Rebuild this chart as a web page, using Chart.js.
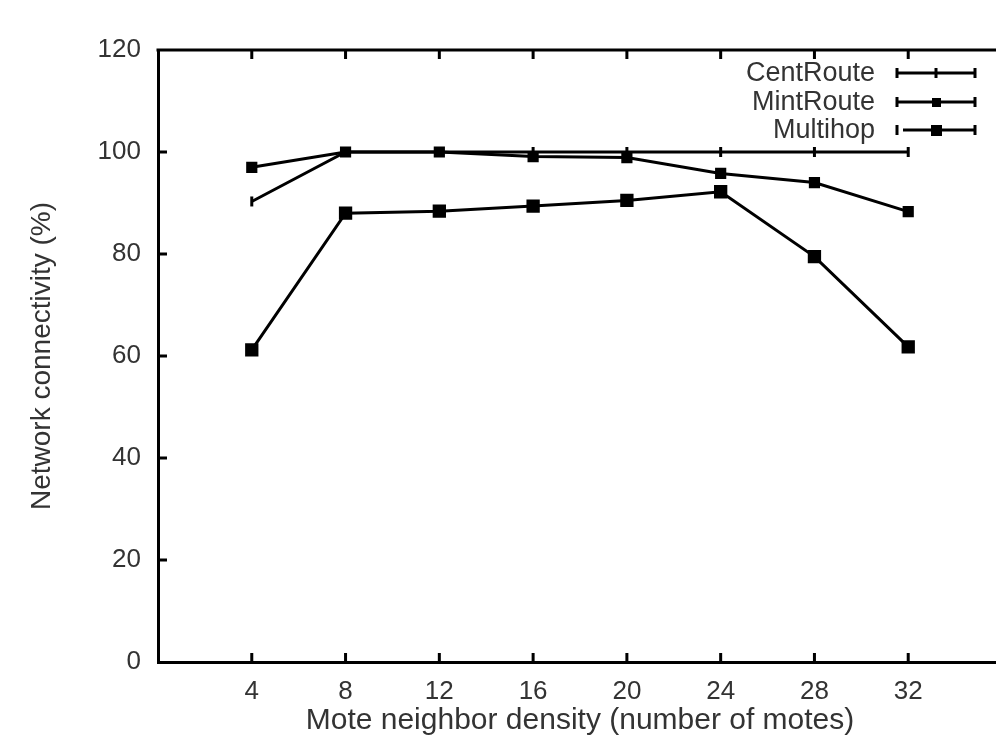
<!DOCTYPE html>
<html>
<head>
<meta charset="utf-8">
<script src="https://cdn.jsdelivr.net/npm/chart.js@4.4.1/dist/chart.umd.min.js"></script>
<style>
  html, body { margin: 0; padding: 0; background: #fff; overflow: hidden; }
  #wrap { width: 996px; height: 751px; overflow: hidden; position: relative; }
  canvas { display: block; }
</style>
</head>
<body>
<div id="wrap"><canvas id="c" width="1012" height="751"></canvas></div>
<script>
// ---- data ----
const densities = [4, 8, 12, 16, 20, 24, 28, 32];
const centRoute = [90.3, 100, 100, 100, 100, 100, 100, 100];
const mintRoute = [97, 100, 100, 99.1, 98.9, 95.8, 94, 88.3];
const multihop  = [61.2, 88, 88.4, 89.4, 90.5, 92.2, 79.5, 61.8];
const seriesNames = ['CentRoute', 'MintRoute', 'Multihop'];
const xTicks = [4, 8, 12, 16, 20, 24, 28, 32];
const yTicks = [0, 20, 40, 60, 80, 100, 120];
const xTitle = 'Mote neighbor density (number of motes)';
const yTitle = 'Network connectivity (%)';

const FONT = '"Liberation Sans", Arial, Helvetica, sans-serif';
const TXT = '#333';

function pts(vals) { return densities.map((d, i) => ({ x: d, y: vals[i] })); }

const gnuplotFrame = {
  id: 'gnuplotFrame',
  afterDatasetsDraw(chart) {
    const { ctx, chartArea: a, scales: { x, y } } = chart;
    ctx.save();
    ctx.strokeStyle = '#000';
    ctx.lineWidth = 3;
    ctx.lineCap = 'butt';
    // top border
    ctx.beginPath();
    ctx.moveTo(a.left - 1.5, a.top);
    ctx.lineTo(a.right + 10, a.top);
    ctx.stroke();
    // inward ticks
    const L = 9;
    ctx.beginPath();
    x.ticks.forEach(t => {
      const px = x.getPixelForValue(t.value);
      ctx.moveTo(px, a.bottom); ctx.lineTo(px, a.bottom - L);
      ctx.moveTo(px, a.top); ctx.lineTo(px, a.top + L);
    });
    y.ticks.forEach(t => {
      if (t.value === y.min || t.value === y.max) return;
      const py = y.getPixelForValue(t.value);
      ctx.moveTo(a.left, py); ctx.lineTo(a.left + L, py);
    });
    ctx.stroke();

    // legend, gnuplot style (text right-aligned, sample on the right)
    const rowY = [73, 102, 130];
    const textRight = 875, sx0 = 897, sx1 = 975, sm = 936;
    ctx.font = '27px ' + FONT;
    ctx.textAlign = 'right';
    ctx.textBaseline = 'middle';
    chart.data.datasets.forEach((ds, i) => {
      const yy = rowY[i];
      ctx.fillStyle = TXT;
      ctx.fillText(ds.label, textRight, yy + 1);
      ctx.strokeStyle = '#000';
      ctx.lineWidth = 3;
      ctx.beginPath();
      ctx.moveTo(i === 2 ? sx0 + 6 : sx0, yy); ctx.lineTo(sx1, yy);
      ctx.stroke();
      ctx.beginPath();
      ctx.moveTo(sx0, yy - 5); ctx.lineTo(sx0, yy + 5);
      ctx.moveTo(sx1, yy - 5); ctx.lineTo(sx1, yy + 5);
      ctx.stroke();
      ctx.fillStyle = '#000';
      if (i === 0) {
        ctx.beginPath(); ctx.moveTo(sm, yy - 5); ctx.lineTo(sm, yy + 5); ctx.stroke();
      } else if (i === 1) {
        ctx.fillRect(sm - 4, yy - 4, 9, 9);
      } else {
        ctx.fillRect(sm - 5, yy - 5, 11, 11);
      }
    });
    ctx.restore();
  }
};

new Chart(document.getElementById('c'), {
  type: 'line',
  data: {
    datasets: [
      { label: seriesNames[0], data: pts(centRoute), borderColor: '#000', backgroundColor: '#000',
        borderWidth: 3, fill: false, pointStyle: 'line', pointRotation: 90, pointRadius: 5, pointBorderWidth: 3 },
      { label: seriesNames[1], data: pts(mintRoute), borderColor: '#000', backgroundColor: '#000',
        borderWidth: 3, fill: false, pointStyle: 'rect', pointRadius: 6.5, pointBorderWidth: 2 },
      { label: seriesNames[2], data: pts(multihop), borderColor: '#000', backgroundColor: '#000',
        borderWidth: 3, fill: false, pointStyle: 'rect', pointRadius: 8, pointBorderWidth: 2 }
    ]
  },
  options: {
    responsive: false,
    animation: false,
    layout: { padding: { top: 50, right: 4, left: 0, bottom: 0 } },
    plugins: { legend: { display: false }, tooltip: { enabled: false } },
    scales: {
      x: {
        type: 'linear', min: 0, max: 36,
        afterBuildTicks: s => { s.ticks = xTicks.map(v => ({ value: v })); },
        afterFit: s => { s.height = 89; },
        grid: { display: false, drawTicks: false },
        border: { display: true, width: 3, color: '#000' },
        ticks: { color: TXT, font: { family: FONT, size: 26 }, padding: 14, maxRotation: 0, autoSkip: false },
        title: { display: true, text: xTitle, color: TXT, font: { family: FONT, size: 30 }, padding: { top: 0, bottom: 12 } }
      },
      y: {
        type: 'linear', min: 0, max: 120,
        afterBuildTicks: s => { s.ticks = yTicks.map(v => ({ value: v })); },
        afterFit: s => { s.width = 158; },
        grid: { display: false, drawTicks: false },
        border: { display: true, width: 3, color: '#000' },
        ticks: { color: TXT, font: { family: FONT, size: 26 }, padding: 17 },
        title: { display: true, text: yTitle, color: TXT, font: { family: FONT, size: 28 }, padding: { top: 25, bottom: 0 } }
      }
    }
  },
  plugins: [gnuplotFrame]
});
</script>
</body>
</html>
